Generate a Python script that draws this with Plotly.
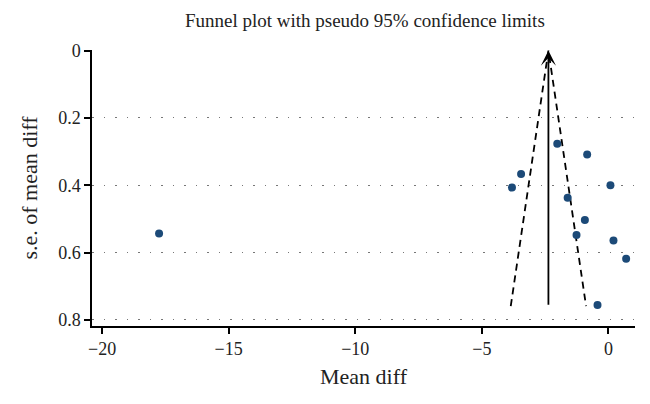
import plotly.graph_objects as go

# Study-level data
mean_diff = [-2.02, -0.84, -3.45, -3.81, 0.08, -1.61, -0.93, -1.26, 0.20, 0.70, -0.43, -17.75]
se_mean_diff = [0.277, 0.309, 0.367, 0.407, 0.400, 0.437, 0.503, 0.548, 0.564, 0.618, 0.756, 0.543]
pooled_estimate = -2.37
se_max = 0.759
x_ticks = [-20, -15, -10, -5, 0]
x_tick_labels = ["\u221220", "\u221215", "\u221210", "\u22125", "0"]
y_ticks = [0, 0.2, 0.4, 0.6, 0.8]
y_tick_labels = ["0", "0.2", "0.4", "0.6", "0.8"]

z = 1.96
funnel_x = [pooled_estimate - z * se_max, pooled_estimate, pooled_estimate + z * se_max]
funnel_y = [se_max, 0, se_max]

font_family = "Liberation Serif, Times New Roman, serif"

fig = go.Figure()
fig.add_trace(go.Scatter(
    x=funnel_x, y=funnel_y, mode="lines",
    line=dict(color="black", width=1.8, dash="7px,5px"),
    hoverinfo="skip", showlegend=False,
))
fig.add_trace(go.Scatter(
    x=mean_diff, y=se_mean_diff, mode="markers",
    marker=dict(color="#1c4a78", size=8),
    showlegend=False,
))
fig.add_annotation(
    x=pooled_estimate, y=0, ax=pooled_estimate, ay=se_max,
    xref="x", yref="y", axref="x", ayref="y",
    showarrow=True, arrowhead=3, arrowsize=1.4, arrowwidth=1.8, arrowcolor="black",
    text="",
)

fig.update_layout(
    width=650, height=404,
    margin=dict(l=84, r=23, t=42, b=86),
    paper_bgcolor="white", plot_bgcolor="white",
    font=dict(family=font_family, size=18, color="#222"),
    title=dict(text="Funnel plot with pseudo 95% confidence limits",
               x=0.549, xanchor="center", y=0.985, yanchor="top",
               pad=dict(t=0, b=0),
               font=dict(size=19, family=font_family, color="#222")),
)
fig.update_xaxes(
    range=[-20.4, 1.05], tickvals=x_ticks, ticktext=x_tick_labels,
    showgrid=False, zeroline=False,
    showline=True, linecolor="black", linewidth=1.5,
    ticks="outside", ticklen=6, tickcolor="black", tickwidth=1.5,
    title=dict(text="Mean diff", standoff=10),
)
fig.update_yaxes(
    range=[0.818, -0.0015], tickvals=y_ticks, ticktext=y_tick_labels,
    showgrid=True, gridcolor="#777", gridwidth=1, griddash="1.5px,10px",
    zeroline=False,
    showline=True, linecolor="black", linewidth=1.5,
    ticks="outside", ticklen=6, tickcolor="black", tickwidth=1.5,
    title=dict(text="s.e. of mean diff", standoff=14),
)

fig.write_html("out.html")
